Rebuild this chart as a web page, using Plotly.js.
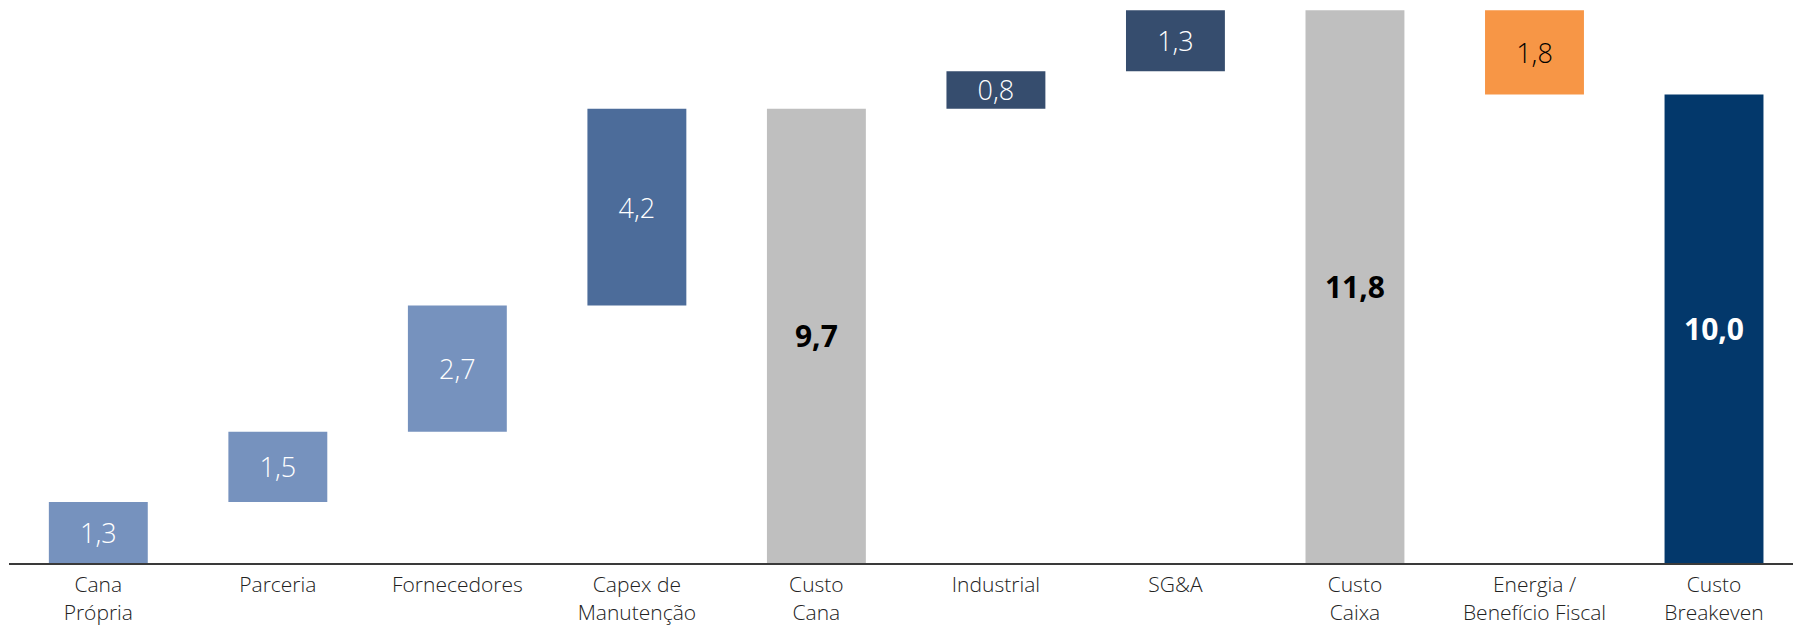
<!DOCTYPE html>
<html>
<head>
<meta charset="utf-8">
<script src="https://cdn.plot.ly/plotly-3.0.1.min.js"></script>
<style>
  html, body { margin: 0; padding: 0; background: #fff; }
  #chart { width: 1793px; height: 628px; }
</style>
</head>
<body>
<div id="chart"></div>
<script>
// categorias do breakeven (R$/...)
var categories = ['Cana<br>Própria', 'Parceria', 'Fornecedores', 'Capex de<br>Manutenção', 'Custo<br>Cana',
                  'Industrial', 'SG&A', 'Custo<br>Caixa', 'Energia /<br>Benefício Fiscal', 'Custo<br>Breakeven'];
var values = [1.3, 1.5, 2.7, 4.2, 9.7, 0.8, 1.3, 11.8, -1.8, 10.0];
var kinds = ['step', 'step', 'step', 'step', 'total', 'step', 'step', 'total', 'step', 'total'];
var colors = ['#7692be', '#7692be', '#7692be', '#4c6c9a', '#bfbfbf',
              '#364d6e', '#364d6e', '#bfbfbf', '#f79646', '#03386b'];
var labelColors = ['#fff', '#fff', '#fff', '#fff', '#000', '#fff', '#fff', '#000', '#000', '#fff'];

// bases e alturas a partir do acumulado
var bases = [], heights = [], running = 0;
values.forEach(function(v, i) {
    if (kinds[i] === 'total') {
        bases.push(0);
        heights.push(v);
        running = v;
    } else if (v >= 0) {
        bases.push(running);
        heights.push(v);
        running += v;
    } else {
        running += v;
        bases.push(running);
        heights.push(-v);
    }
});

var labels = values.map(function(v, i) {
    var s = Math.abs(v).toFixed(1).replace('.', ',');
    return kinds[i] === 'total' ? '<b>' + s + '</b>' : s;
});
var sizes = kinds.map(function(k) { return k === 'total' ? 30 : 27; });

var trace = {
    type: 'bar',
    x: categories,
    y: heights,
    base: bases,
    text: labels,
    textposition: 'inside',
    insidetextanchor: 'middle',
    constraintext: 'none',
    textangle: 0,
    textfont: {family: 'Open Sans, sans-serif', size: sizes, color: labelColors, weight: 300},
    marker: {color: colors},
    hoverinfo: 'skip'
};

var layout = {
    width: 1793,
    height: 628,
    margin: {l: 9, r: 0, t: 0, b: 65},
    paper_bgcolor: '#fff',
    plot_bgcolor: '#fff',
    showlegend: false,
    bargap: 0.449,
    font: {family: 'Open Sans, sans-serif', color: '#222'},
    xaxis: {
        type: 'category',
        range: [-0.4975, 9.44],
        showline: true,
        linecolor: '#3a3a3a',
        linewidth: 2,
        ticks: '',
        ticklabelstandoff: 2,
        showgrid: false,
        zeroline: false,
        tickfont: {size: 21, color: '#222', weight: 300},
        fixedrange: true
    },
    yaxis: {
        range: [0, 12.02],
        visible: false,
        showgrid: false,
        zeroline: false,
        fixedrange: true
    }
};

Plotly.newPlot('chart', [trace], layout, {displayModeBar: false, staticPlot: true});
</script>
</body>
</html>
